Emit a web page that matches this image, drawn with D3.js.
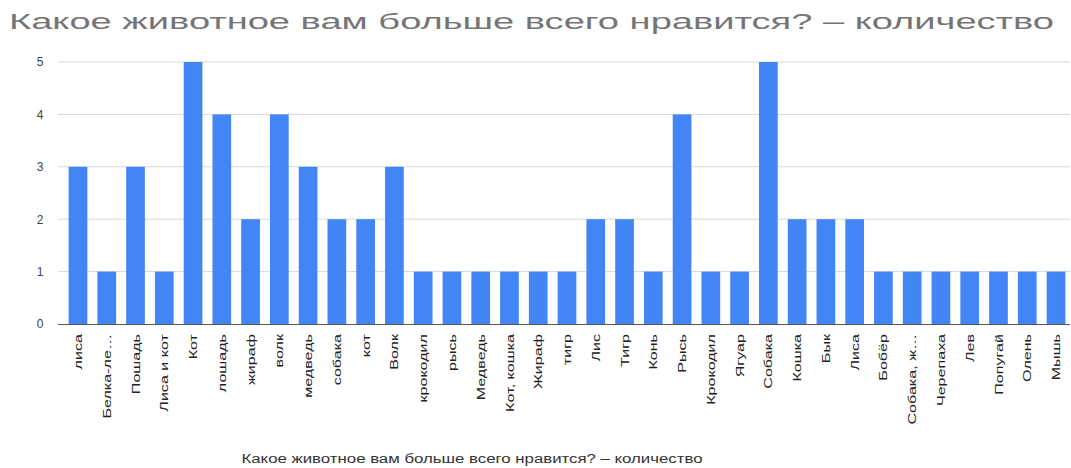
<!DOCTYPE html>
<html>
<head>
<meta charset="utf-8">
<script src="https://cdn.jsdelivr.net/npm/d3@7"></script>
<style>
  html, body { margin: 0; padding: 0; background: #fff; }
  svg { display: block; }
</style>
</head>
<body>
<svg id="chart" width="1071" height="468"></svg>
<script>
// Survey answers: favourite animal and how many people named it
const animals = [
  "лиса", "Белка-ле…", "Пошадь", "Лиса и кот", "Кот", "лошадь", "жираф", "волк",
  "медведь", "собака", "кот", "Волк", "крокодил", "рысь", "Медведь", "Кот, кошка",
  "Жираф", "тигр", "Лис", "Тигр", "Конь", "Рысь", "Крокодил", "Ягуар", "Собака",
  "Кошка", "Бык", "Лиса", "Бобёр", "Собака, ж…", "Черепаха", "Лев", "Попугай",
  "Олень", "Мышь"
];
const counts = [
  3, 1, 3, 1, 5, 4, 2, 4,
  3, 2, 2, 3, 1, 1, 1, 1,
  1, 1, 2, 2, 1, 4, 1, 1, 5,
  2, 2, 2, 1, 1, 1, 1, 1,
  1, 1
];
const yTicks = [0, 1, 2, 3, 4, 5];

const titleText = "Какое животное вам больше всего нравится? – количество";
const axisTitle = "Какое животное вам больше всего нравится? – количество";

const svg = d3.select("#chart");
const plot = { left: 58, right: 1070, top: 62, bottom: 324 };

const x = d3.scaleBand()
  .domain(animals)
  .range([63.6, 1070.4])
  .paddingInner(0.35)
  .paddingOuter(0.175);

const y = d3.scaleLinear()
  .domain([0, 5])
  .range([plot.bottom, plot.top]);

// Title
svg.append("text")
  .attr("x", 9)
  .attr("y", 29)
  .attr("font-family", "Liberation Sans, Arial, sans-serif")
  .attr("font-size", 22)
  .attr("fill", "#757575")
  .attr("textLength", 1045)
  .attr("lengthAdjust", "spacingAndGlyphs")
  .text(titleText);

// Horizontal gridlines
svg.append("g")
  .selectAll("line")
  .data(yTicks.filter(d => d > 0))
  .join("line")
  .attr("x1", plot.left)
  .attr("x2", plot.right)
  .attr("y1", d => y(d))
  .attr("y2", d => y(d))
  .attr("stroke", "#d9d9d9")
  .attr("stroke-width", 1);

// Y axis labels
const yAxis = d3.axisLeft(y).tickValues(yTicks).tickSize(0).tickPadding(0).tickFormat(d3.format("d"));
const yg = svg.append("g")
  .attr("transform", `translate(${plot.left - 12},0)`)
  .call(yAxis);
yg.select(".domain").remove();
yg.selectAll("text")
  .attr("font-family", "Liberation Sans, Arial, sans-serif")
  .attr("font-size", 12)
  .attr("fill", "#444")
  .attr("text-anchor", "middle")
  .attr("dx", -6);

// Bars
svg.append("g")
  .selectAll("rect")
  .data(animals.map((a, i) => ({ a, v: counts[i] })))
  .join("rect")
  .attr("x", d => x(d.a))
  .attr("width", x.bandwidth())
  .attr("y", d => y(d.v))
  .attr("height", d => y(0) - y(d.v))
  .attr("fill", "#4285f4");

// Baseline
svg.append("line")
  .attr("x1", plot.left)
  .attr("x2", plot.right)
  .attr("y1", y(0) + 0.5)
  .attr("y2", y(0) + 0.5)
  .attr("stroke", "#555")
  .attr("stroke-width", 1.2);

// X axis category labels, rotated and drawn in a tall condensed style
const xAxis = d3.axisBottom(x).tickSize(0).tickPadding(0);
const xg = svg.append("g")
  .attr("transform", `translate(0,${plot.bottom})`)
  .call(xAxis);
xg.select(".domain").remove();
xg.selectAll("text")
  .attr("font-family", "Liberation Sans, Arial, sans-serif")
  .attr("font-size", 11.5)
  .attr("fill", "#222")
  .attr("text-anchor", "end")
  .attr("dy", "0.35em")
  .attr("transform", "translate(0,10) rotate(-90) scale(1.4,1)");

// X axis title
svg.append("text")
  .attr("x", 472)
  .attr("y", 463)
  .attr("text-anchor", "middle")
  .attr("font-family", "Liberation Sans, Arial, sans-serif")
  .attr("font-size", 12)
  .attr("fill", "#333")
  .attr("textLength", 461)
  .attr("lengthAdjust", "spacingAndGlyphs")
  .text(axisTitle);
</script>
</body>
</html>
